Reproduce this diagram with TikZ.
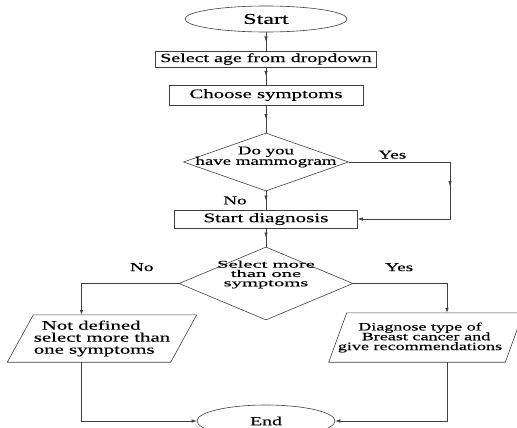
\documentclass[tikz,border=0pt]{standalone}
\usepackage{fontspec}
\setmainfont{Liberation Serif}[FakeStretch=1.6, FakeBold=0.3]
\newfontfamily\widefont{Liberation Serif}[FakeStretch=2.0, FakeBold=0.3]
\usetikzlibrary{arrows.meta,shapes.geometric,decorations.markings}
\newcommand{\tightlines}{\lineskiplimit=-20pt\relax}

\tikzset{
  inkline/.style={draw=black!75, line width=0.6pt},
  procbox/.style={inkline, rectangle, inner sep=0pt},
  termnode/.style={inkline, ellipse, inner sep=0pt},
  decision/.style={inkline, diamond, inner sep=0pt},
  iotext/.style={rectangle, inner sep=0pt},
  branchlabel/.style={inner sep=0pt, font=\fontsize{12}{12}\selectfont},
  link/.style={inkline, -{Latex[length=5pt,width=3.5pt]}},
  midlink/.style={inkline, postaction={decorate},
    decoration={markings, mark=at position 0.5 with {\arrow{Latex[length=5pt,width=3.5pt]}}}},
}

\begin{document}
\begin{tikzpicture}[x=1pt, y=-1pt]
  \useasboundingbox (0,0) rectangle (517,428);
  \clip (0,0) rectangle (517,428);

  % main column
  \node[termnode, minimum width=162pt, minimum height=26pt, font=\fontsize{15}{15}\selectfont] (start) at (266,19) {Start};
  \node[procbox, minimum width=221pt, minimum height=16pt, font=\fontsize{12.5}{13}\selectfont] (age) at (266,59) {Select age from dropdown};
  \node[procbox, minimum width=194pt, minimum height=20pt, font=\fontsize{13}{13}\selectfont] (symp) at (266,95) {Choose symptoms};
  \node[decision, minimum width=165pt, minimum height=58pt,
        label={[font=\fontsize{11.8}{10.5}\selectfont\tightlines, align=center, yshift=5pt]center:{Do you\\have mammogram}}] (mammo) at (266,162) {};
  \node[procbox, minimum width=183pt, minimum height=18pt, font=\fontsize{13.2}{13}\selectfont] (diag) at (266,219) {Start diagnosis};
  \node[decision, minimum width=174pt, minimum height=73pt,
        label={[font=\widefont\fontsize{10.3}{9.3}\selectfont\tightlines, align=center, yshift=9pt]center:{Select more\\than one\\symptoms}}] (multi) at (266,283.5) {};

  % the two outcomes (slanted boxes drawn round the text nodes)
  \node[iotext, minimum width=163pt, minimum height=47pt,
        font=\fontsize{13}{12}\selectfont\tightlines, align=left] (nodef) at (102,338.5) {\hspace*{8pt}Not defined\\select more than\\one symptoms};
  \draw[inkline] ([xshift=-13pt]nodef.south west) -- ([xshift=-13pt]nodef.south east)
    -- ([xshift=13pt]nodef.north east) -- ([xshift=13pt]nodef.north west) -- cycle;
  \node[iotext, minimum width=166pt, minimum height=49pt,
        font=\fontsize{11.3}{9.8}\selectfont\tightlines, align=center] (recom) at (426,337.5) {Diagnose type of\hspace*{12pt}\\Breast cancer and\hspace*{12pt}\\give recommendations\hspace*{12pt}};
  \draw[inkline] ([xshift=-9pt]recom.south west) -- ([xshift=-9pt]recom.south east)
    -- ([xshift=9pt]recom.north east) -- ([xshift=9pt]recom.north west) -- cycle;
  \node[termnode, minimum width=138pt, minimum height=32pt, font=\fontsize{12.4}{12}\selectfont] (finish) at (266,421) {End};

  \coordinate (lcol) at (81.5,0);
  \coordinate (rcol) at (447,0);
  \coordinate (ybend) at (450,0);

  % connectors
  \draw[midlink] (start) -- (age);
  \draw[midlink] (age) -- (symp);
  \draw[midlink] (symp) -- (mammo);
  \draw[midlink] (mammo) -- node[branchlabel, left=19pt] {No} (diag);
  \draw[link, midlink] (mammo.east) -- node[branchlabel, above=3pt, pos=0.43] {Yes} (ybend |- mammo.east)
    -- (ybend |- diag.east) -- (diag.east);
  \draw[midlink] (diag) -- (multi);
  \draw[link] (multi.west) -- node[branchlabel, above=12pt, pos=0.38] {No} (lcol |- multi.west) -- (lcol |- nodef.north);
  \draw[link] (multi.east) -- node[branchlabel, above=12pt, pos=0.49] {Yes} (rcol |- multi.east) -- (rcol |- recom.north);
  \draw[link] (lcol |- nodef.south) -- (lcol |- finish.west) -- (finish.west);
  \draw[link] (rcol |- recom.south) -- (rcol |- finish.east) -- (finish.east);
\end{tikzpicture}
\end{document}
